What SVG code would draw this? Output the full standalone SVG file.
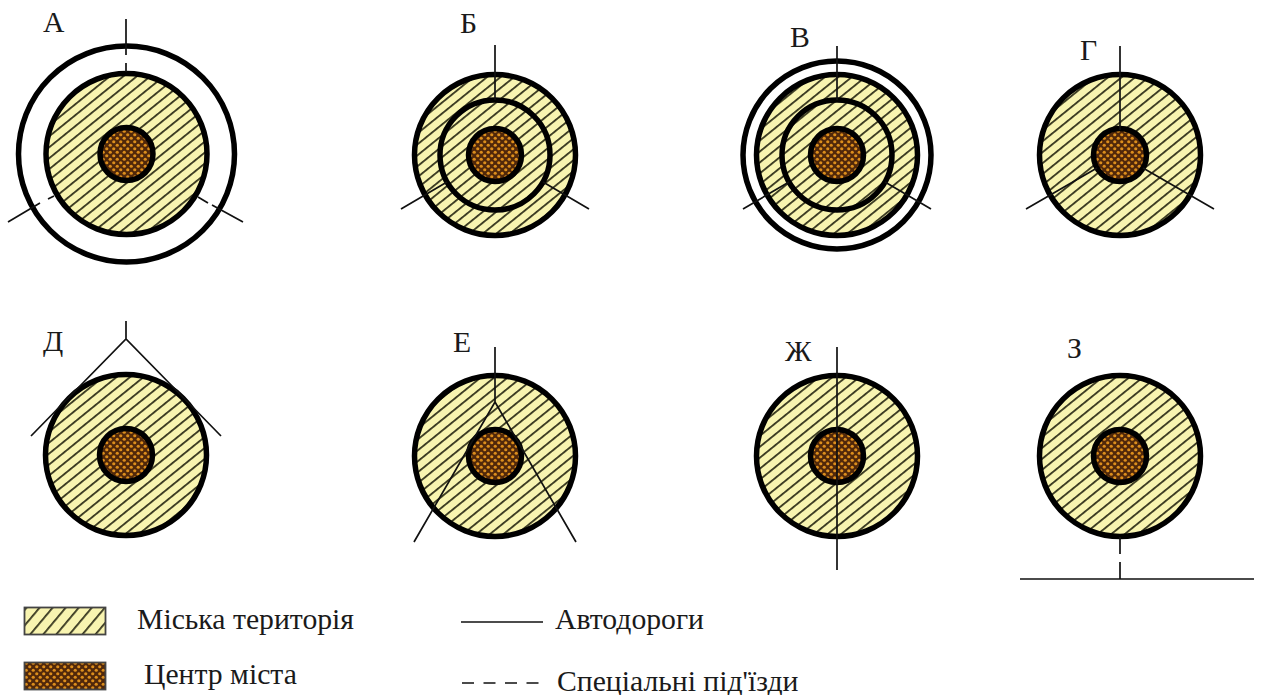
<svg xmlns="http://www.w3.org/2000/svg" width="1262" height="695" viewBox="0 0 1262 695">
<style>
text{font-family:"Liberation Serif","Times New Roman",serif;font-size:29.700px;fill:#1a1a1a}
.ter{fill:url(#hatch);stroke:#000;stroke-width:5.500}
.cen{fill:url(#cross);stroke:#000;stroke-width:5.500}
.ring{fill:none;stroke:#000;stroke-width:5.500}
.road{fill:none;stroke:#111;stroke-width:1.700}
.lter{fill:url(#hatchl);stroke:#444;stroke-width:1.800}
.lcen{fill:url(#cross);stroke:#444;stroke-width:1.800}
</style>
<defs>
<pattern id="hatch" width="8.500" height="8.500" patternUnits="userSpaceOnUse" patternTransform="rotate(-39)">
<rect width="8.500" height="8.500" fill="#f8f4b0"/><rect width="8.500" height="1.800" fill="#36361e"/>
</pattern>
<pattern id="hatchl" width="10" height="10" patternUnits="userSpaceOnUse" patternTransform="rotate(-50)">
<rect width="10" height="10" fill="#f8f4b0"/><rect width="10" height="1.800" fill="#36361e"/>
</pattern>
<pattern id="cross" width="7" height="7" patternUnits="userSpaceOnUse">
<rect width="7" height="7" fill="#51280a"/><circle cx="1.750" cy="1.750" r="1.600" fill="#dc8e1c"/><circle cx="5.250" cy="5.250" r="1.600" fill="#dc8e1c"/>
</pattern>
</defs>
<rect width="1262" height="695" fill="#fff"/>
<g id="node-a"><circle class="ring" cx="126.500" cy="154" r="108"/><circle class="ter" cx="126.500" cy="154" r="80.500"/><circle class="cen" cx="126.500" cy="154" r="26.500"/><text x="43" y="32">А</text></g>
<g id="node-b"><circle class="ter" cx="495" cy="155" r="80.500"/><circle class="ring" cx="495" cy="155" r="55"/><circle class="cen" cx="495" cy="155" r="26.500"/><text x="460" y="33">Б</text></g>
<g id="node-v"><circle class="ring" cx="837" cy="155" r="94"/><circle class="ter" cx="837" cy="155" r="80.500"/><circle class="ring" cx="837" cy="155" r="55"/><circle class="cen" cx="837" cy="155" r="26.500"/><text x="790" y="47">В</text></g>
<g id="node-g"><circle class="ter" cx="1120" cy="155" r="80.500"/><circle class="cen" cx="1120" cy="155" r="26.500"/><text x="1080" y="60">Г</text></g>
<g id="node-d"><circle class="ter" cx="126" cy="455" r="80.500"/><circle class="cen" cx="126" cy="455" r="26.500"/><text x="43" y="351">Д</text></g>
<g id="node-e"><circle class="ter" cx="495" cy="456" r="80.500"/><circle class="cen" cx="495" cy="456" r="26.500"/><text x="453" y="352">Е</text></g>
<g id="node-zh"><circle class="ter" cx="837" cy="456" r="80.500"/><circle class="cen" cx="837" cy="456" r="26.500"/><text x="785" y="361">Ж</text></g>
<g id="node-z"><circle class="ter" cx="1120" cy="456" r="80.500"/><circle class="cen" cx="1120" cy="456" r="26.500"/><text x="1067" y="358">З</text></g>
<g id="connectors">
<path class="road" d="M126 19V55M126 63V72M8 222L40 203M48 199L54 196M198 197L208 203M212 205L243 222"/>
<path class="road" d="M495 45V100M401 209L447 182M589 209L543 182"/>
<path class="road" d="M837 46V100M743 209L789 182M931 209L885 182"/>
<path class="road" d="M1120 46V130M1026 209L1097 168M1214 209L1143 168"/>
<path class="road" d="M126 321V339M31 436L126 339L221 436"/>
<path class="road" d="M495 347V402M414 542L495 402L576 542"/>
<path class="road" d="M837 347V570"/>
<path class="road" d="M1120 537V554M1120 562V579M1020 579H1254"/>
</g>
<g id="legend">
<rect class="lter" x="24.500" y="607.500" width="81" height="27"/>
<text x="137" y="629">Міська територія</text>
<rect class="lcen" x="24.500" y="662.500" width="81" height="27"/>
<text x="144" y="684">Центр міста</text>
<path class="road" d="M461 622H543"/>
<text x="555" y="629">Автодороги</text>
<path class="road" d="M462 683H543" stroke-width="2" stroke-dasharray="12 9.500"/>
<text x="557" y="691">Спеціальні під'їзди</text>
</g>
</svg>
